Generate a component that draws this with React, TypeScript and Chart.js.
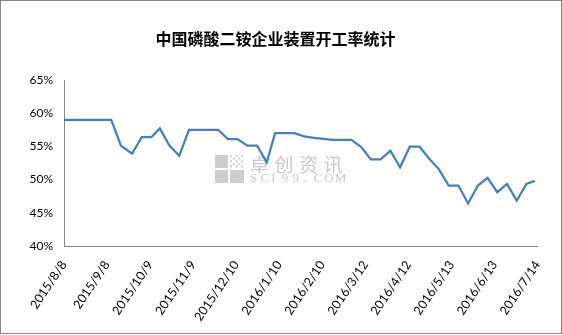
import React, { useEffect, useRef } from "react";
import { Chart, registerables } from "chart.js";

Chart.register(...registerables);

const TITLE = "中国磷酸二铵企业装置开工率统计";
const START_DATE = "2015/8/8";
const END_DATE = "2016/7/14";
const TICK_STEP_DAYS = 31;
const Y_MIN = 40;
const Y_MAX = 65;
const Y_STEP = 5;

const dates = [
  "2015/8/8", "2015/8/15", "2015/8/22", "2015/8/29", "2015/9/5", "2015/9/11",
  "2015/9/18", "2015/9/26", "2015/10/3", "2015/10/10", "2015/10/16", "2015/10/23",
  "2015/10/30", "2015/11/6", "2015/11/13", "2015/11/20", "2015/11/27", "2015/12/4",
  "2015/12/11", "2015/12/18", "2015/12/25", "2016/1/1", "2016/1/7", "2016/1/14",
  "2016/1/21", "2016/1/28", "2016/2/4", "2016/2/11", "2016/2/17", "2016/2/24",
  "2016/3/2", "2016/3/9", "2016/3/16", "2016/3/23", "2016/3/30", "2016/4/6",
  "2016/4/13", "2016/4/20", "2016/4/27", "2016/5/4", "2016/5/11", "2016/5/18",
  "2016/5/25", "2016/6/1", "2016/6/8", "2016/6/15", "2016/6/22", "2016/6/29",
  "2016/7/6", "2016/7/12",
];

const rates = [
  59, 59, 59, 59, 59, 59,
  55.1, 53.9, 56.4, 56.4, 57.7, 55.1,
  53.6, 57.5, 57.5, 57.5, 57.5, 56.1,
  56.1, 55.1, 55.1, 52.6, 57.0, 57.0,
  57.0, 56.5, 56.3, 56.15, 56.0, 56.0,
  56.0, 54.9, 53.05, 53.05, 54.35, 51.85,
  54.95, 54.95, 53.15, 51.55, 49.1, 49.1,
  46.4, 49.1, 50.25, 48.1, 49.35, 46.85,
  49.35, 49.8,
];

const DAY = 86400000;
const toUTC = (s: string) => {
  const [y, m, d] = s.split("/").map(Number);
  return Date.UTC(y, m - 1, d);
};
const base = toUTC(START_DATE);
const dayOffset = (s: string) => Math.round((toUTC(s) - base) / DAY);
const fmt = (days: number) => {
  const dt = new Date(base + Math.round(days) * DAY);
  return `${dt.getUTCFullYear()}/${dt.getUTCMonth() + 1}/${dt.getUTCDate()}`;
};

const watermark = {
  id: "watermark",
  beforeDatasetsDraw(chart: any) {
    const ctx = chart.ctx as CanvasRenderingContext2D;
    ctx.save();
    ctx.fillStyle = "#cdcdcd";
    ctx.fillRect(215, 155, 13, 13);
    ctx.fillRect(215, 170, 13, 13);
    ctx.fillRect(230, 170, 14, 13);
    for (let i = 0; i < 5; i++) {
      for (let j = 0; j < 5; j++) {
        if ((i + j) % 2 === 0) ctx.fillRect(230 + i * 2.8, 155 + j * 2.6, 2, 2);
      }
    }
    ctx.fillStyle = "#c9c9c9";
    ctx.font = "19px 'Noto Sans CJK SC'";
    ctx.textBaseline = "middle";
    ctx.textAlign = "left";
    const cn = "卓创资讯";
    for (let i = 0; i < cn.length; i++) ctx.fillText(cn[i], 250 + i * 24.5, 165);
    ctx.font = "13px 'Liberation Serif'";
    const en = "SCI99.COM";
    for (let i = 0; i < en.length; i++) ctx.fillText(en[i], 250 + i * 10.6, 178.5);
    ctx.restore();
  },
};

const frame = {
  id: "frame",
  afterDraw(chart: any) {
    const ctx = chart.ctx as CanvasRenderingContext2D;
    ctx.save();
    ctx.strokeStyle = "#868686";
    ctx.lineWidth = 1;
    ctx.strokeRect(0.5, 0.5, 561, 333);
    ctx.restore();
  },
};

export default function App() {
  const ref = useRef<HTMLCanvasElement>(null);
  useEffect(() => {
    document.body.style.margin = "0";
    const points = dates.map((d, i) => ({ x: dayOffset(d), y: rates[i] }));
    const chart = new Chart(ref.current!, {
      type: "line",
      data: {
        datasets: [
          {
            data: points,
            borderColor: "#4A7EBB",
            borderWidth: 2.25,
            pointRadius: 0,
            tension: 0,
            fill: false,
          },
        ],
      },
      options: {
        animation: false,
        responsive: true,
        maintainAspectRatio: false,
        layout: { padding: { left: 11, right: 22, top: 0, bottom: 0 } },
        plugins: {
          legend: { display: false },
          tooltip: { enabled: false },
          title: {
            display: true,
            text: TITLE,
            color: "#000",
            font: { family: "'Noto Sans CJK SC'", size: 16, weight: "bold", lineHeight: 1.2 },
            padding: { top: 29.5, bottom: 31.3 },
          },
        },
        scales: {
          x: {
            type: "linear",
            min: 0,
            max: dayOffset(END_DATE),
            grid: { display: false, drawTicks: false },
            border: { display: true, color: "#868686", width: 1 },
            ticks: {
              stepSize: TICK_STEP_DAYS,
              autoSkip: false,
              maxRotation: 56,
              minRotation: 56,
              padding: 12,
              color: "#000",
              font: { family: "Lato", size: 12.5 },
              callback: (v: any) => fmt(Number(v)),
            },
            afterFit: (s: any) => {
              s.height = 89;
            },
          },
          y: {
            min: Y_MIN,
            max: Y_MAX,
            grid: { display: false, drawTicks: false },
            border: { display: true, color: "#868686", width: 1 },
            ticks: {
              stepSize: Y_STEP,
              padding: 11,
              color: "#000",
              font: { family: "Lato", size: 12 },
              callback: (v: any) => `${v}%`,
            },
            afterFit: (s: any) => {
              s.width = 53;
            },
          },
        },
      },
      plugins: [watermark, frame],
    });
    return () => chart.destroy();
  }, []);
  return (
    <div style={{ width: 562, height: 335, position: "relative" }}>
      <canvas ref={ref} />
    </div>
  );
}
